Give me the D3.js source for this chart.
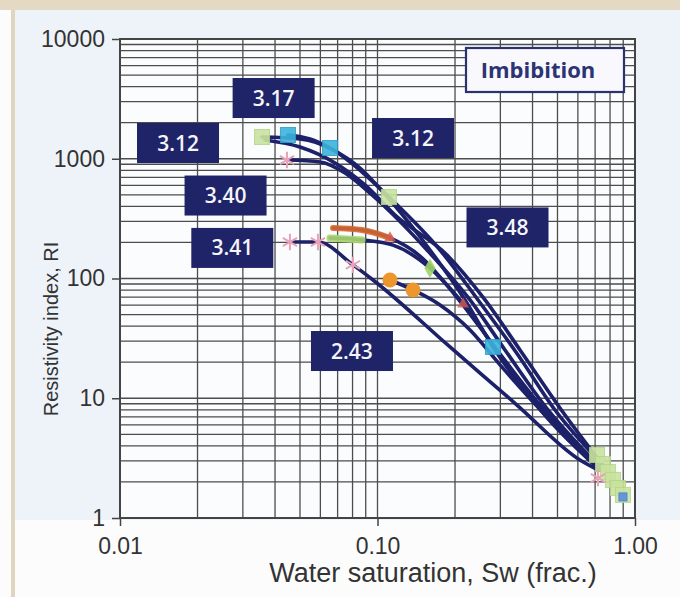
<!DOCTYPE html>
<html>
<head>
<meta charset="utf-8">
<script src="https://cdn.jsdelivr.net/npm/d3@7"></script>
<style>
  body { margin: 0; background: #ffffff; }
  svg { display: block; }
</style>
</head>
<body>
<svg id="chart" width="680" height="597"></svg>
<script>
// ---- axes ----
const xTicks = [0.01, 0.1, 1];
const xTickLabels = ["0.01", "0.10", "1.00"];
const yTicks = [1, 10, 100, 1000, 10000];
const yTickLabels = ["1", "10", "100", "1000", "10000"];

// ---- resistivity index curves: [Sw (frac.), RI] ----
const curveGreenSquares = [[0.0356, 1519], [0.0500, 1462], [0.0672, 1183], [0.0871, 775], [0.1108, 479], [0.1749, 173], [0.2457, 66.2], [0.3513, 23.0], [0.4890, 7.98], [0.7313, 2.94]];
const curveCyanSquares  = [[0.0449, 1579], [0.0547, 1462], [0.0654, 1229], [0.0855, 837], [0.1118, 452], [0.1599, 173], [0.2187, 66.2], [0.2809, 26.8], [0.4472, 7.25], [0.6688, 3.05]];
const curveStarUpper    = [[0.0445, 976], [0.0598, 940], [0.0748, 760], [0.0952, 498], [0.1557, 173], [0.2287, 66.2], [0.3127, 25.3], [0.4593, 7.98], [0.7184, 2.77]];
const curveGreenUpper   = [[0.0366, 1434], [0.0500, 1253], [0.0684, 922], [0.0894, 604], [0.1170, 339], [0.1862, 157], [0.2616, 66.2], [0.3576, 25.3], [0.5347, 7.25], [0.7647, 2.62]];
const curveRed          = [[0.0672, 264], [0.0871, 254], [0.1118, 218], [0.1462, 154], [0.2000, 72.8], [0.2912, 25.3], [0.4277, 8.78], [0.7184, 2.72]];
const curveGreenLower   = [[0.0654, 218], [0.0871, 210], [0.1148, 190], [0.1599, 122], [0.2092, 66.2], [0.2991, 23.0], [0.4472, 7.25], [0.7313, 2.52]];
const curveCircles      = [[0.1118, 97.2], [0.1374, 80.2], [0.1749, 60.1], [0.2287, 37.2], [0.2991, 19.0], [0.4677, 6.58], [0.6994, 2.77]];
const curveStarLower    = [[0.0457, 202], [0.0587, 202], [0.0803, 130], [0.0961, 97.2], [0.1912, 26.8], [0.3481, 8.78], [0.6114, 3.05], [0.7184, 2.52]];
const allCurves = [curveGreenSquares, curveCyanSquares, curveStarUpper, curveGreenUpper, curveRed, curveGreenLower, curveCircles, curveStarLower];

// ---- measured points ----
const greenSquarePts = [[0.0356, 1519], [0.1108, 479], [0.712, 3.36], [0.751, 2.82], [0.785, 2.42], [0.821, 2.08], [0.859, 1.78], [0.898, 1.56]];
const cyanSquarePts  = [[0.0449, 1579], [0.0654, 1229], [0.2809, 26.8]];
const blueEndPts     = [[0.898, 1.50]];
const starPts        = [[0.0445, 976], [0.0457, 202], [0.0587, 202], [0.0803, 130], [0.718, 2.16]];
const circlePts      = [[0.1118, 97.2], [0.1374, 80.2]];
const greenDiamondPts = [[0.1599, 122]];
const redPts         = [[0.1118, 218], [0.2150, 61]];

// ---- saturation exponents (box centres in Sw, RI) ----
const nLabels  = ["3.17", "3.12", "3.12", "3.40", "3.41", "3.48", "2.43"];
const nAnchors = [[0.0395, 3215], [0.0168, 1354], [0.1374, 1490], [0.0257, 493], [0.0273, 180], [0.3198, 267], [0.0796, 24.8]];

const W = 680, H = 597;
const svg = d3.select("#chart");

// page background and frame
svg.append("rect").attr("width", W).attr("height", H).attr("fill", "#fcfcfc");
svg.append("rect").attr("x", 15).attr("y", 10).attr("width", W - 15).attr("height", 510).attr("fill", "#eef3f9");
svg.append("rect").attr("x", 0).attr("y", 0).attr("width", W).attr("height", 10).attr("fill", "#e4dac3");
svg.append("rect").attr("x", 11).attr("y", 10).attr("width", 4).attr("height", H - 10).attr("fill", "#e0d5bd");

const x = d3.scaleLog().domain([0.01, 1]).range([120, 635]);
const y = d3.scaleLog().domain([1, 10000]).range([518, 39]);

// plot area
svg.append("rect")
  .attr("x", x(0.01)).attr("y", y(10000))
  .attr("width", x(1) - x(0.01)).attr("height", y(1) - y(10000))
  .attr("fill", "#fbfcfe");

// log grid
const grid = svg.append("g").attr("stroke", "#4d4d4d").attr("stroke-width", 1.3);
grid.selectAll("line.v").data(x.ticks()).join("line")
  .attr("x1", d => x(d)).attr("x2", d => x(d))
  .attr("y1", y(1)).attr("y2", y(10000));
grid.selectAll("line.h").data(y.ticks()).join("line")
  .attr("y1", d => y(d)).attr("y2", d => y(d))
  .attr("x1", x(0.01)).attr("x2", x(1));
svg.append("rect")
  .attr("x", x(0.01)).attr("y", y(10000))
  .attr("width", x(1) - x(0.01)).attr("height", y(1) - y(10000))
  .attr("fill", "none").attr("stroke", "#444").attr("stroke-width", 2);

// axes
const axisFont = "'Liberation Sans', Arial, sans-serif";
const yAxis = svg.append("g").attr("transform", `translate(${x(0.01)},0)`)
  .call(d3.axisLeft(y).tickValues(yTicks).tickFormat((d, i) => yTickLabels[i]).tickSize(8).tickPadding(7));
const xAxis = svg.append("g").attr("transform", `translate(0,${y(1)})`)
  .call(d3.axisBottom(x).tickValues(xTicks).tickFormat((d, i) => xTickLabels[i]).tickSize(8).tickPadding(12));
[xAxis, yAxis].forEach(g => {
  g.select(".domain").remove();
  g.selectAll(".tick line").attr("stroke", "#444").attr("stroke-width", 1.5);
  g.selectAll(".tick text").attr("fill", "#333").style("font-family", axisFont).style("font-size", "23px");
});

// fitted curves
const line = d3.line().x(d => x(d[0])).y(d => y(d[1])).curve(d3.curveMonotoneX);
svg.append("g").selectAll("path").data(allCurves).join("path")
  .attr("d", line).attr("fill", "none")
  .attr("stroke", "#1d2169").attr("stroke-width", 3.6).attr("stroke-linecap", "round");

// coloured starts of the two middle curves
svg.append("path").datum(curveRed.slice(0, 3)).attr("d", line)
  .attr("fill", "none").attr("stroke", "#d8682e").attr("stroke-width", 6).attr("stroke-linecap", "round").attr("opacity", 0.9);
svg.append("path").datum(curveGreenLower.slice(0, 2)).attr("d", line)
  .attr("fill", "none").attr("stroke", "#a9d66e").attr("stroke-width", 7).attr("stroke-linecap", "round").attr("opacity", 0.9);

// markers
const mk = svg.append("g");
function squares(pts, size, fill, stroke) {
  mk.append("g").selectAll("rect").data(pts).join("rect")
    .attr("x", d => x(d[0]) - size / 2).attr("y", d => y(d[1]) - size / 2)
    .attr("width", size).attr("height", size)
    .attr("fill", fill).attr("stroke", stroke).attr("stroke-width", 1).attr("opacity", 0.9);
}
squares(greenSquarePts, 15, "#c9e39f", "#b5d58a");
squares(cyanSquarePts, 15, "#3db3dc", "#2e9fca");
squares(blueEndPts, 8, "#5b8de0", "#4a7cd0");
mk.append("g").selectAll("path").data(starPts).join("path")
  .attr("transform", d => `translate(${x(d[0])},${y(d[1])})`)
  .attr("d", d3.symbol(d3.symbolAsterisk, 190))
  .attr("fill", "none").attr("stroke", "#e9a2b6").attr("stroke-width", 2);
mk.append("g").selectAll("circle").data(circlePts).join("circle")
  .attr("cx", d => x(d[0])).attr("cy", d => y(d[1])).attr("r", 7.5)
  .attr("fill", "#ec962c");
mk.append("g").selectAll("path").data(greenDiamondPts).join("path")
  .attr("transform", d => `translate(${x(d[0])},${y(d[1])})`)
  .attr("d", d3.symbol(d3.symbolDiamond, 110)).attr("fill", "#9fd26a").attr("opacity", 0.9);
mk.append("g").selectAll("path").data(redPts).join("path")
  .attr("transform", d => `translate(${x(d[0])},${y(d[1])})`)
  .attr("d", d3.symbol(d3.symbolTriangle, 60)).attr("fill", "#d45a52").attr("opacity", 0.8);

// saturation exponent boxes
const boxW = 82, boxH = 40;
const boxes = svg.append("g").selectAll("g").data(nLabels).join("g")
  .attr("transform", (d, i) => `translate(${x(nAnchors[i][0])},${y(nAnchors[i][1])})`);
boxes.append("rect").attr("x", -boxW / 2).attr("y", -boxH / 2).attr("width", boxW).attr("height", boxH)
  .attr("fill", "#1e2467");
boxes.append("text").text(d => d)
  .attr("text-anchor", "middle").attr("dy", "0.36em")
  .attr("fill", "#f4f4fa").style("font-family", "'Open Sans', 'Noto Sans', sans-serif")
  .style("font-size", "21px").style("font-weight", 600);

// title box
const tb = svg.append("g");
tb.append("rect").attr("x", 466).attr("y", 48).attr("width", 158).attr("height", 44)
  .attr("fill", "#f8f8fd").attr("stroke", "#2c3270").attr("stroke-width", 2.2);
tb.append("text").text("Imbibition").attr("x", 538).attr("y", 70).attr("dy", "0.36em")
  .attr("text-anchor", "middle").attr("fill", "#2c3474")
  .style("font-family", "'Open Sans', 'Noto Sans', sans-serif").style("font-size", "22px").style("font-weight", 700);

// axis titles
svg.append("text").text("Water saturation, Sw (frac.)")
  .attr("x", 433).attr("y", 582).attr("text-anchor", "middle").attr("fill", "#333")
  .style("font-family", axisFont).style("font-size", "27px");
svg.append("text").text("Resistivity index, RI")
  .attr("transform", "translate(58,329) rotate(-90)").attr("text-anchor", "middle").attr("fill", "#333")
  .style("font-family", axisFont).style("font-size", "20px");
</script>
</body>
</html>
